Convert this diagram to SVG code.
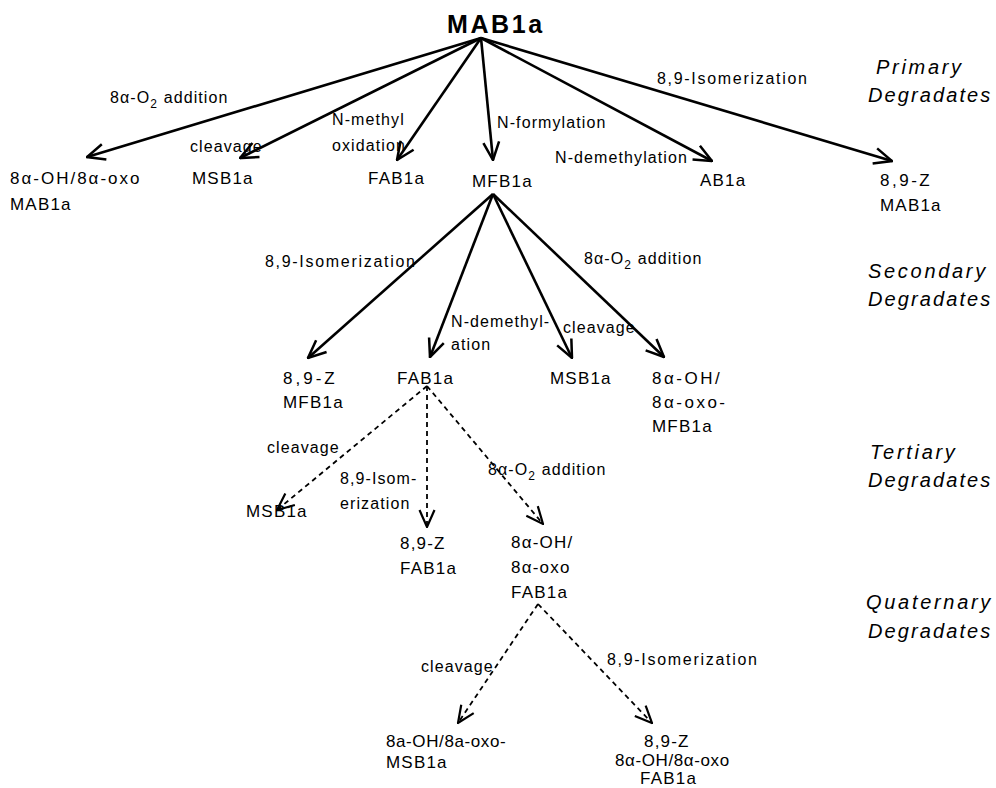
<svg xmlns="http://www.w3.org/2000/svg" width="996" height="788" viewBox="0 0 996 788">
<style>
text{font-family:"Liberation Sans",Arial,sans-serif;fill:#000}
.title{font-size:25px;font-weight:bold;letter-spacing:2.6px}
.node{font-size:17px;letter-spacing:1.2px}
.edge{font-size:16px;letter-spacing:1.1px}
.cat{font-size:20px;font-style:italic;letter-spacing:2.7px}
.deg{letter-spacing:2.1px}
.sub{font-size:12px}
.solid{stroke:#000;stroke-width:2.6;fill:none;marker-end:url(#ah)}
.dash{stroke:#000;stroke-width:1.8;fill:none;stroke-dasharray:5 4;marker-end:url(#ahd)}
</style>
<defs>
<marker id="ah" viewBox="0 0 20 20" refX="19" refY="10" markerWidth="21" markerHeight="21" markerUnits="userSpaceOnUse" orient="auto">
<path d="M2,2.5 L19,10 L2,17.5" fill="none" stroke="#000" stroke-width="2.4"/>
</marker>
<marker id="ahd" viewBox="0 0 20 20" refX="19" refY="10" markerWidth="20" markerHeight="20" markerUnits="userSpaceOnUse" orient="auto">
<path d="M2,2.5 L19,10 L2,17.5" fill="none" stroke="#000" stroke-width="2.2"/>
</marker>
</defs>

<g id="categories">
<text class="cat" x="876" y="74">Primary</text>
<text class="cat deg" x="868" y="102">Degradates</text>
<text class="cat" x="868" y="278">Secondary</text>
<text class="cat deg" x="868" y="306">Degradates</text>
<text class="cat" x="870" y="459">Tertiary</text>
<text class="cat deg" x="868" y="487">Degradates</text>
<text class="cat" x="866" y="609">Quaternary</text>
<text class="cat deg" x="868" y="638">Degradates</text>
</g>

<g id="connectors">
<line class="solid" x1="481" y1="38" x2="87" y2="157"/>
<line class="solid" x1="481" y1="38" x2="240" y2="158"/>
<line class="solid" x1="481" y1="38" x2="397" y2="160"/>
<line class="solid" x1="481" y1="38" x2="493" y2="160"/>
<line class="solid" x1="481" y1="38" x2="712" y2="161"/>
<line class="solid" x1="481" y1="38" x2="892" y2="161"/>
<line class="solid" x1="493" y1="194" x2="308" y2="358"/>
<line class="solid" x1="493" y1="194" x2="430" y2="357"/>
<line class="solid" x1="493" y1="194" x2="572" y2="358"/>
<line class="solid" x1="493" y1="194" x2="664" y2="357"/>
<line class="dash" x1="427" y1="386" x2="277" y2="510"/>
<line class="dash" x1="427" y1="386" x2="427" y2="527"/>
<line class="dash" x1="427" y1="386" x2="543" y2="524"/>
<line class="dash" x1="538" y1="604" x2="458" y2="723"/>
<line class="dash" x1="538" y1="604" x2="652" y2="723"/>
</g>

<g id="edge-labels">
<text class="edge" x="110" y="103">8α-O<tspan class="sub" dy="5">2</tspan><tspan dy="-5"> addition</tspan></text>
<text class="edge" x="190" y="152">cleavage</text>
<text class="edge" x="332" y="125">N-methyl</text>
<text class="edge" x="332" y="151">oxidation</text>
<text class="edge" x="497" y="128">N-formylation</text>
<text class="edge" x="555" y="163">N-demethylation</text>
<text class="edge" x="657" y="84" style="letter-spacing:1.7px">8,9-Isomerization</text>
<text class="edge" x="265" y="267" style="letter-spacing:1.7px">8,9-Isomerization</text>
<text class="edge" x="451" y="327">N-demethyl-</text>
<text class="edge" x="451" y="350">ation</text>
<text class="edge" x="563" y="333">cleavage</text>
<text class="edge" x="584" y="264">8α-O<tspan class="sub" dy="5">2</tspan><tspan dy="-5"> addition</tspan></text>
<text class="edge" x="267" y="453">cleavage</text>
<text class="edge" x="340" y="484">8,9-Isom-</text>
<text class="edge" x="340" y="509">erization</text>
<text class="edge" x="488" y="475">8α-O<tspan class="sub" dy="5">2</tspan><tspan dy="-5"> addition</tspan></text>
<text class="edge" x="421" y="672">cleavage</text>
<text class="edge" x="607" y="665" style="letter-spacing:1.7px">8,9-Isomerization</text>
</g>

<g id="MAB1a"><text class="title" x="447" y="33">MAB1a</text></g>

<g id="n-8OH-MAB1a"><text class="node" x="10" y="184" style="letter-spacing:2px">8α-OH/8α-oxo</text><text class="node" x="10" y="210">MAB1a</text></g>
<g id="n-MSB1a-1"><text class="node" x="192" y="184">MSB1a</text></g>
<g id="n-FAB1a-1"><text class="node" x="368" y="184">FAB1a</text></g>
<g id="MFB1a"><text class="node" x="472" y="187">MFB1a</text></g>
<g id="n-AB1a"><text class="node" x="700" y="186">AB1a</text></g>
<g id="n-89Z-MAB1a"><text class="node" x="880" y="186" style="letter-spacing:2.5px">8,9-Z</text><text class="node" x="880" y="211">MAB1a</text></g>

<g id="n-89Z-MFB1a"><text class="node" x="283" y="384" style="letter-spacing:3px">8,9-Z</text><text class="node" x="283" y="408">MFB1a</text></g>
<g id="FAB1a"><text class="node" x="397" y="384">FAB1a</text></g>
<g id="n-MSB1a-2"><text class="node" x="550" y="384">MSB1a</text></g>
<g id="n-8OH-MFB1a"><text class="node" x="652" y="384" style="letter-spacing:2.5px">8α-OH/</text><text class="node" x="652" y="408" style="letter-spacing:2.5px">8α-oxo-</text><text class="node" x="652" y="432">MFB1a</text></g>

<g id="n-MSB1a-3"><text class="node" x="246" y="517">MSB1a</text></g>
<g id="n-89Z-FAB1a"><text class="node" x="400" y="549">8,9-Z</text><text class="node" x="400" y="574">FAB1a</text></g>
<g id="n-8OH-FAB1a"><text class="node" x="511" y="548">8α-OH/</text><text class="node" x="511" y="573">8α-oxo</text><text class="node" x="511" y="598">FAB1a</text></g>

<g id="n-8OH-MSB1a"><text class="node" x="386" y="747" style="letter-spacing:0.6px">8a-OH/8a-oxo-</text><text class="node" x="386" y="768">MSB1a</text></g>
<g id="n-89Z-8OH-FAB1a"><text class="node" x="644" y="747">8,9-Z</text><text class="node" x="615" y="766" style="letter-spacing:0.6px">8α-OH/8α-oxo</text><text class="node" x="640" y="784">FAB1a</text></g>
</svg>
